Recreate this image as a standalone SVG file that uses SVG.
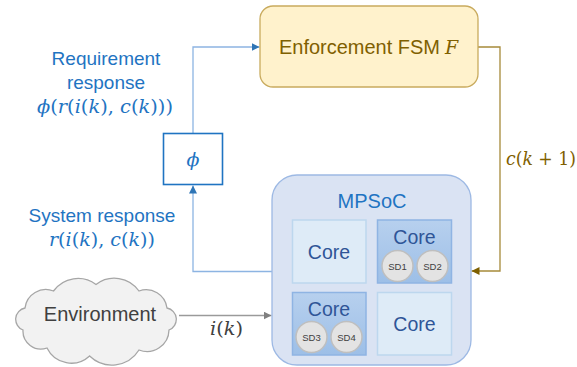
<svg xmlns="http://www.w3.org/2000/svg" width="577" height="367" viewBox="0 0 577 367">
  <defs>
    <marker id="arrBlue" viewBox="0 0 10 10" refX="10" refY="5" markerWidth="8" markerHeight="8" markerUnits="userSpaceOnUse" orient="auto">
      <path d="M0,0 L10,5 L0,10 Z" fill="#2E75B6"/>
    </marker>
    <marker id="arrGold" viewBox="0 0 10 10" refX="10" refY="5" markerWidth="8" markerHeight="8" markerUnits="userSpaceOnUse" orient="auto">
      <path d="M0,0 L10,5 L0,10 Z" fill="#7F6000"/>
    </marker>
    <marker id="arrGray" viewBox="0 0 10 10" refX="10" refY="5" markerWidth="8" markerHeight="8" markerUnits="userSpaceOnUse" orient="auto">
      <path d="M0,0 L10,5 L0,10 Z" fill="#808080"/>
    </marker>
    <linearGradient id="busyCore" x1="0" y1="0" x2="0" y2="1">
      <stop offset="0" stop-color="#B7D0EE"/>
      <stop offset="1" stop-color="#9DBFE7"/>
    </linearGradient>
  </defs>
  <style>
    .sans { font-family: "Liberation Sans", Arial, sans-serif; }
    .math { font-family: "DejaVu Serif", "Liberation Serif", serif; font-style: italic; }
    .up { font-style: normal; }
    .blue { fill: #1F74C2; }
    .core { fill: #DEEBF7; stroke: #BDD7EE; stroke-width: 1.5; }
    .coreSd { fill: url(#busyCore); stroke: #8FB4E3; stroke-width: 1.5; }
    .coreTxt { font-size: 19.5px; fill: #2F5597; text-anchor: middle; }
    .sd { fill: #E3E3E3; stroke: #BFBFBF; stroke-width: 1.5; }
    .sdTxt { font-size: 9.5px; fill: #404040; text-anchor: middle; }
    .link { fill: none; stroke-width: 1.3; }
  </style>

  <!-- connectors -->
  <g id="connectors">
    <path class="link" d="M193,133 V47 H259.5" stroke="#8DB4E2" marker-end="url(#arrBlue)"/>
    <path class="link" d="M272,271.5 H193 V185.5" stroke="#8DB4E2" marker-end="url(#arrBlue)"/>
    <path class="link" d="M478,47 H500 V271 H471.5" stroke="#A68A3A" marker-end="url(#arrGold)"/>
    <path class="link" d="M179,315.5 H271.5" stroke="#9A9A9A" marker-end="url(#arrGray)"/>
  </g>

  <!-- enforcement FSM -->
  <g id="fsm">
    <rect x="260" y="6" width="218" height="81" rx="13" fill="#FFF2CC" stroke="#C9AB5E" stroke-width="1.3"/>
    <text x="279" y="54" class="sans" font-size="20.5" fill="#7F6000" textLength="161" lengthAdjust="spacingAndGlyphs">Enforcement FSM</text>
    <text x="445" y="54" class="math" font-size="19" fill="#7F6000">F</text>
  </g>

  <!-- requirement filter phi -->
  <g id="phi">
    <rect x="163.5" y="133.5" width="59" height="51" fill="#FFFFFF" stroke="#1F74C2" stroke-width="1.6"/>
    <text x="193" y="166" class="math blue" font-size="19" text-anchor="middle">ϕ</text>
  </g>

  <!-- labels on the feedback paths -->
  <g id="requirement-label">
    <text x="106" y="65" class="sans blue" font-size="19" text-anchor="middle">Requirement</text>
    <text x="106" y="89" class="sans blue" font-size="19" text-anchor="middle">response</text>
    <text x="37" y="113" class="math blue" font-size="18" textLength="136" lengthAdjust="spacingAndGlyphs">ϕ<tspan class="up">(</tspan>r<tspan class="up">(</tspan>i<tspan class="up">(</tspan>k<tspan class="up">),</tspan> c<tspan class="up">(</tspan>k<tspan class="up">)))</tspan></text>
  </g>
  <g id="system-label">
    <text x="102" y="222" class="sans blue" font-size="19" text-anchor="middle">System response</text>
    <text x="49" y="246" class="math blue" font-size="18" textLength="106" lengthAdjust="spacingAndGlyphs">r<tspan class="up">(</tspan>i<tspan class="up">(</tspan>k<tspan class="up">),</tspan> c<tspan class="up">(</tspan>k<tspan class="up">))</tspan></text>
  </g>
  <g id="config-label">
    <text x="506" y="165" class="math" font-size="18" fill="#7F6000" textLength="70" lengthAdjust="spacingAndGlyphs">c<tspan class="up">(</tspan>k <tspan class="up">+ 1)</tspan></text>
  </g>
  <g id="input-label">
    <text x="210" y="335" class="math" font-size="18" fill="#404040" textLength="33" lengthAdjust="spacingAndGlyphs">i<tspan class="up">(</tspan>k<tspan class="up">)</tspan></text>
  </g>

  <!-- environment -->
  <g id="environment">
    <path d="M23,330 A11.5,11.5 0 0 1 25,308 A21,21 0 0 1 53.5,291 A30,30 0 0 1 96,284.5 A30,30 0 0 1 139,291 A21,21 0 0 1 167,308 A11.5,11.5 0 0 1 169,330 A22,22 0 0 1 139,350 A32,32 0 0 1 89.6,356 A27,27 0 0 1 47,348 A18,18 0 0 1 23,330 Z" fill="#F2F2F2" stroke="#A6A6A6" stroke-width="1.3"/>
    <text x="100" y="321" class="sans" font-size="20" fill="#404040" text-anchor="middle">Environment</text>
  </g>

  <!-- MPSoC with four cores -->
  <g id="mpsoc">
    <rect x="272" y="175" width="199" height="190" rx="25" fill="#DAE3F3" stroke="#9DB9E4" stroke-width="1.3"/>
    <text x="372" y="208" class="sans" font-size="20" fill="#1F74C2" text-anchor="middle">MPSoC</text>
  </g>
  <g id="core1">
    <rect class="core" x="292.5" y="220" width="73.5" height="63"/>
    <text class="sans coreTxt" x="329" y="259">Core</text>
  </g>
  <g id="core2">
    <rect class="coreSd" x="377.5" y="220" width="74" height="63"/>
    <text class="sans coreTxt" x="414.5" y="244">Core</text>
    <circle class="sd" cx="397.5" cy="266" r="15.5"/>
    <text class="sans sdTxt" x="397.5" y="269.5">SD1</text>
    <circle class="sd" cx="432.5" cy="266" r="15.5"/>
    <text class="sans sdTxt" x="432.5" y="269.5">SD2</text>
  </g>
  <g id="core3">
    <rect class="coreSd" x="292.5" y="292.5" width="73.5" height="62.5"/>
    <text class="sans coreTxt" x="329" y="316">Core</text>
    <circle class="sd" cx="311.5" cy="337" r="15.5"/>
    <text class="sans sdTxt" x="311.5" y="340.5">SD3</text>
    <circle class="sd" cx="346.5" cy="337" r="15.5"/>
    <text class="sans sdTxt" x="346.5" y="340.5">SD4</text>
  </g>
  <g id="core4">
    <rect class="core" x="377.5" y="292.5" width="74" height="62.5"/>
    <text class="sans coreTxt" x="414.5" y="331">Core</text>
  </g>
</svg>
